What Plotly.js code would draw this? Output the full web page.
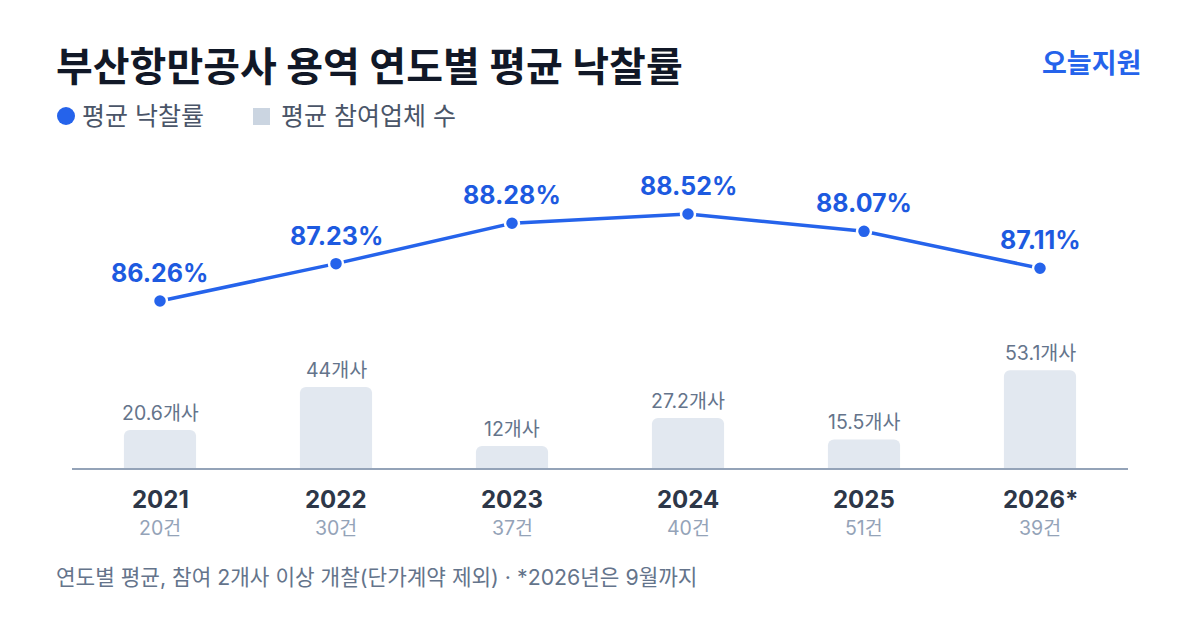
<!DOCTYPE html>
<html>
<head>
<meta charset="utf-8">
<script src="https://cdn.plot.ly/plotly-3.0.1.min.js"></script>
<style>
  html, body { margin: 0; padding: 0; background: #fff; }
  #chart { width: 1200px; height: 630px; }
</style>
</head>
<body>
<div id="chart"></div>
<script>
// 연도별 데이터
const years = ['2021', '2022', '2023', '2024', '2025', '2026*'];
const rates = [86.26, 87.23, 88.28, 88.52, 88.07, 87.11];      // 평균 낙찰률 (%)
const bidders = [20.6, 44, 12, 27.2, 15.5, 53.1];              // 평균 참여업체 수
const counts = [20, 30, 37, 40, 51, 39];                       // 건수

const FONT = 'Inter, "Noto Sans CJK KR", sans-serif';
const W = 1200, H = 630;
const px = x => x / W;
const py = y => 1 - y / H;

// 카테고리 위치 (0..5)
const xpos = years.map((_, i) => i);

const barTrace = {
    x: xpos,
    y: bidders,
    type: 'bar',
    width: 0.41,
    marker: { color: '#e2e8f0', cornerradius: 6 },
    yaxis: 'y',
    hoverinfo: 'skip'
};

const lineTrace = {
    x: xpos,
    y: rates,
    type: 'scatter',
    mode: 'lines+markers',
    line: { color: '#2563eb', width: 3.5 },
    marker: { color: '#2563eb', size: 14, line: { color: '#ffffff', width: 2.5 } },
    yaxis: 'y2',
    hoverinfo: 'skip'
};

const annotations = [];

// 낙찰률 라벨
xpos.forEach((x, i) => {
    annotations.push({
        x: x, y: rates[i], xref: 'x', yref: 'y2',
        text: '<b>' + rates[i].toFixed(2) + '%</b>',
        showarrow: false, yanchor: 'middle', yshift: 28,
        font: { family: FONT, size: 25, color: '#1d5ae0' }
    });
});

// 참여업체 수 라벨
xpos.forEach((x, i) => {
    annotations.push({
        x: x, y: bidders[i], xref: 'x', yref: 'y',
        text: bidders[i] + '개사',
        showarrow: false, yanchor: 'middle', yshift: 17,
        font: { family: FONT, size: 19.5, color: '#64748b' }
    });
});

// x축 라벨 (연도 + 건수)
xpos.forEach((x, i) => {
    annotations.push({
        x: x, y: py(468), xref: 'x', yref: 'paper',
        text: '<b>' + years[i] + '</b>',
        showarrow: false, yanchor: 'middle', yshift: -31,
        font: { family: FONT, size: 24, color: '#2d3748' }
    });
    annotations.push({
        x: x, y: py(468), xref: 'x', yref: 'paper',
        text: counts[i] + '건',
        showarrow: false, yanchor: 'middle', yshift: -60,
        font: { family: FONT, size: 19.5, color: '#94a3b8' }
    });
});

// 제목, 브랜드, 범례, 각주
annotations.push(
    {
        x: px(54), y: py(67), xref: 'paper', yref: 'paper',
        xanchor: 'left', yanchor: 'middle', showarrow: false,
        text: '<b>부산항만공사 용역 연도별 평균 낙찰률</b>',
        font: { family: FONT, size: 40, color: '#111827' }
    },
    {
        x: px(1143), y: py(64), xref: 'paper', yref: 'paper',
        xanchor: 'right', yanchor: 'middle', showarrow: false,
        text: '<b>오늘지원</b>',
        font: { family: FONT, size: 27, color: '#2563eb' }
    },
    {
        x: px(80), y: py(116), xref: 'paper', yref: 'paper',
        xanchor: 'left', yanchor: 'middle', showarrow: false,
        text: '평균 낙찰률',
        font: { family: FONT, size: 25, color: '#4a5568' }
    },
    {
        x: px(279), y: py(116), xref: 'paper', yref: 'paper',
        xanchor: 'left', yanchor: 'middle', showarrow: false,
        text: '평균 참여업체 수',
        font: { family: FONT, size: 25, color: '#4a5568' }
    },
    {
        x: px(54), y: py(577), xref: 'paper', yref: 'paper',
        xanchor: 'left', yanchor: 'middle', showarrow: false,
        text: '연도별 평균, 참여 2개사 이상 개찰(단가계약 제외) · *2026년은 9월까지',
        font: { family: FONT, size: 21.3, color: '#64748b' }
    }
);

const shapes = [
    {
        type: 'circle', xref: 'paper', yref: 'paper',
        x0: px(57), x1: px(75), y0: py(107), y1: py(125),
        fillcolor: '#2563eb', line: { width: 0 }
    },
    {
        type: 'rect', xref: 'paper', yref: 'paper',
        x0: px(253), x1: px(270), y0: py(108), y1: py(125),
        fillcolor: '#cbd5e1', line: { width: 0 }
    }
];

const layout = {
    width: W,
    height: H,
    margin: { l: 0, r: 0, t: 0, b: 0 },
    paper_bgcolor: '#ffffff',
    plot_bgcolor: '#ffffff',
    showlegend: false,
    font: { family: FONT },
    xaxis: {
        domain: [px(72), px(1128)],
        range: [-0.5, 5.5],
        showticklabels: false,
        showgrid: false,
        zeroline: false,
        showline: true,
        linecolor: '#94a3b8',
        linewidth: 2,
        ticks: ''
    },
    yaxis: {
        domain: [py(468), py(150)],
        range: [0, 172.8],
        visible: false,
        showgrid: false,
        zeroline: false
    },
    yaxis2: {
        overlaying: 'y',
        range: [81.922, 90.182],
        visible: false,
        showgrid: false,
        zeroline: false
    },
    annotations: annotations,
    shapes: shapes
};

Plotly.newPlot('chart', [barTrace, lineTrace], layout, { displayModeBar: false, staticPlot: true });
</script>
</body>
</html>
